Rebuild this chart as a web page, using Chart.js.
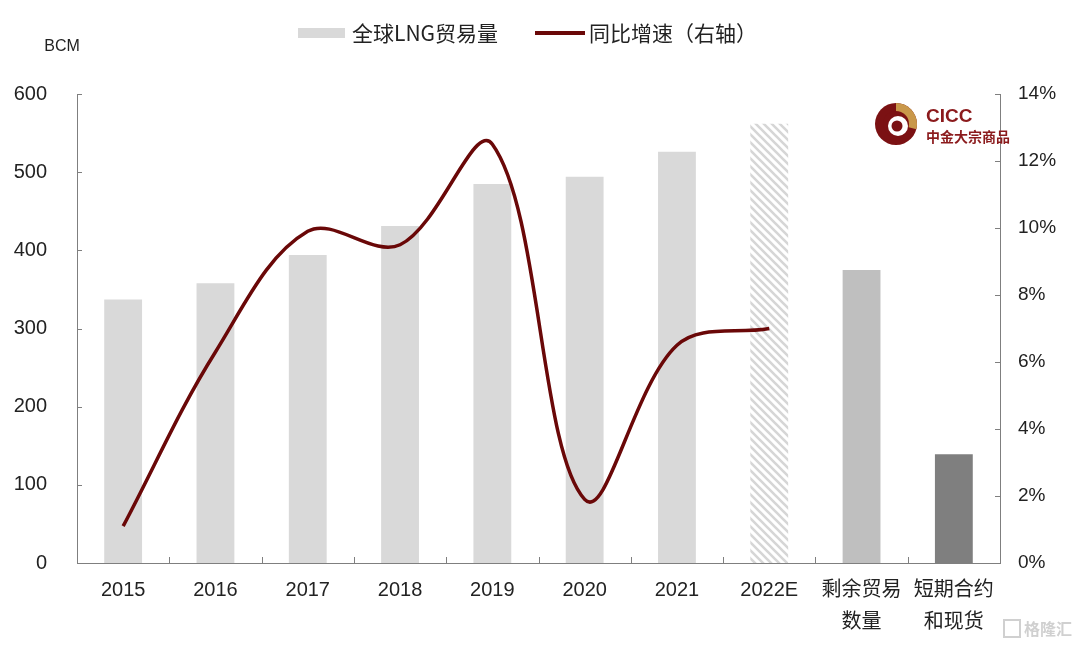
<!DOCTYPE html>
<html lang="zh">
<head>
<meta charset="utf-8" />
<title>全球LNG贸易量</title>
<script src="https://cdn.jsdelivr.net/npm/chart.js"></script>
<style>
  html, body { margin: 0; padding: 0; background: #fff; }
  #wrap { position: relative; width: 1080px; height: 646px; }
</style>
</head>
<body>
<div id="wrap">
  <canvas id="lngChart" width="1080" height="646"></canvas>
</div>
<script>
// data
const categories = ['2015', '2016', '2017', '2018', '2019', '2020', '2021', '2022E', ['剩余贸易', '数量'], ['短期合约', '和现货']];
const tradeVolume = [337, 358, 394, 431, 485, 494, 526, 562, 375, 139];   // BCM
const growthRate = [1.1, 6.3, 9.9, 9.5, 12.5, 1.9, 6.5, 7.0, null, null]; // %, right axis
const leftTicks = [0, 100, 200, 300, 400, 500, 600];
const rightTicks = [0, 2, 4, 6, 8, 10, 12, 14];

const FONT = '"Liberation Sans", Arial, "Noto Sans CJK SC", sans-serif';
const RED = '#6a0808';

// hatch for the forecast bar
function makeHatch() {
  const c = document.createElement('canvas');
  c.width = 8; c.height = 8;
  const g = c.getContext('2d');
  g.fillStyle = '#fff';
  g.fillRect(0, 0, 8, 8);
  g.strokeStyle = '#d6d6d6';
  g.lineWidth = 2.6;
  g.beginPath();
  g.moveTo(-2, -2); g.lineTo(10, 10);
  g.moveTo(-2, 6); g.lineTo(2, 10);
  g.moveTo(6, -2); g.lineTo(10, 2);
  g.stroke();
  return document.getElementById('lngChart').getContext('2d').createPattern(c, 'repeat');
}
const hatch = makeHatch();
const barColors = tradeVolume.map((v, i) => i < 7 ? '#d9d9d9' : i === 7 ? hatch : i === 8 ? '#bfbfbf' : '#7f7f7f');

// inward tick marks, legend, unit, logo
const decor = {
  id: 'decor',
  afterDraw(chart) {
    const ctx = chart.ctx;
    const a = chart.chartArea;
    const y = chart.scales.y, y1 = chart.scales.y1;
    ctx.save();
    ctx.strokeStyle = '#7f7f7f';
    ctx.lineWidth = 1;
    ctx.beginPath();
    leftTicks.forEach(v => {
      const p = Math.round(y.getPixelForValue(v)) + 0.5;
      ctx.moveTo(a.left, p); ctx.lineTo(a.left + 5, p);
    });
    rightTicks.forEach(v => {
      const p = Math.round(y1.getPixelForValue(v)) + 0.5;
      ctx.moveTo(a.right, p); ctx.lineTo(a.right - 5, p);
    });
    const step = (a.right - a.left) / categories.length;
    for (let i = 1; i < categories.length; i++) {
      const p = Math.round(a.left + step * i) + 0.5;
      ctx.moveTo(p, a.bottom); ctx.lineTo(p, a.bottom - 6);
    }
    ctx.stroke();

    // legend
    ctx.fillStyle = '#d9d9d9';
    ctx.fillRect(298, 28, 47, 10);
    ctx.strokeStyle = RED;
    ctx.lineWidth = 4;
    ctx.beginPath();
    ctx.moveTo(535, 33); ctx.lineTo(585, 33);
    ctx.stroke();
    ctx.fillStyle = '#222';
    ctx.font = '21px "Noto Sans CJK SC", sans-serif';
    ctx.textBaseline = 'middle';
    ctx.fillText('全球LNG贸易量', 352, 33);
    ctx.fillText('同比增速（右轴）', 589, 33);

    // unit
    ctx.font = '16px ' + FONT;
    ctx.textAlign = 'center';
    ctx.fillText('BCM', 62, 47);

    // logo
    const cx = 896, cy = 124;
    ctx.fillStyle = '#7b1113';
    ctx.beginPath(); ctx.arc(cx, cy, 21, 0, Math.PI * 2); ctx.fill();
    ctx.fillStyle = '#c9984a';
    ctx.beginPath(); ctx.moveTo(cx, cy); ctx.arc(cx, cy, 21, -Math.PI / 2, Math.PI * 0.08); ctx.closePath(); ctx.fill();
    ctx.fillStyle = '#7b1113';
    ctx.beginPath(); ctx.arc(cx, cy, 13, 0, Math.PI * 2); ctx.fill();
    ctx.fillStyle = '#fff';
    ctx.beginPath(); ctx.arc(cx + 2, cy + 2, 10, 0, Math.PI * 2); ctx.fill();
    ctx.fillStyle = '#7b1113';
    ctx.beginPath(); ctx.arc(cx + 1, cy + 2, 5.5, 0, Math.PI * 2); ctx.fill();
    ctx.textAlign = 'left';
    ctx.fillStyle = '#8b1a1c';
    ctx.font = 'bold 19px "Liberation Sans", Arial, sans-serif';
    ctx.fillText('CICC', 926, 117);
    ctx.font = 'bold 14px "Noto Sans CJK SC", sans-serif';
    ctx.fillText('中金大宗商品', 926, 137);

    // watermark
    ctx.fillStyle = '#d0d0d0';
    ctx.font = 'bold 16px "Noto Sans CJK SC", sans-serif';
    ctx.fillText('格隆汇', 1024, 629);
    ctx.strokeStyle = '#d0d0d0';
    ctx.lineWidth = 2;
    ctx.strokeRect(1004, 620, 16, 17);
    ctx.restore();
  }
};

new Chart(document.getElementById('lngChart'), {
  data: {
    labels: categories,
    datasets: [
      {
        type: 'line',
        label: '同比增速（右轴）',
        data: growthRate,
        yAxisID: 'y1',
        borderColor: RED,
        borderWidth: 3.5,
        pointRadius: 0,
        tension: 0.36,
        fill: false,
        order: 0
      },
      {
        type: 'bar',
        label: '全球LNG贸易量',
        data: tradeVolume,
        yAxisID: 'y',
        backgroundColor: barColors,
        barPercentage: 0.41,
        categoryPercentage: 1,
        order: 1
      }
    ]
  },
  options: {
    responsive: false,
    animation: false,
    layout: { padding: { top: 94, left: 0, right: 0, bottom: 0 } },
    plugins: { legend: { display: false }, tooltip: { enabled: false } },
    scales: {
      x: {
        grid: { display: false, drawTicks: false },
        border: { color: '#7f7f7f' },
        ticks: { color: '#222', font: { family: FONT, size: 20, lineHeight: 1.6 }, padding: 11, autoSkip: false, maxRotation: 0 },
        afterFit: s => { s.height = 83; }
      },
      y: {
        position: 'left',
        min: 0, max: 600,
        grid: { display: false, drawTicks: false },
        border: { color: '#7f7f7f' },
        ticks: { stepSize: 100, color: '#222', font: { family: FONT, size: 20 }, padding: 30 },
        afterFit: s => { s.width = 77; }
      },
      y1: {
        position: 'right',
        min: 0, max: 14,
        grid: { display: false, drawTicks: false },
        border: { color: '#7f7f7f' },
        ticks: { stepSize: 2, color: '#222', font: { family: FONT, size: 19 }, padding: 18, callback: v => v + '%' },
        afterFit: s => { s.width = 80; }
      }
    }
  },
  plugins: [decor]
});
</script>
</body>
</html>
